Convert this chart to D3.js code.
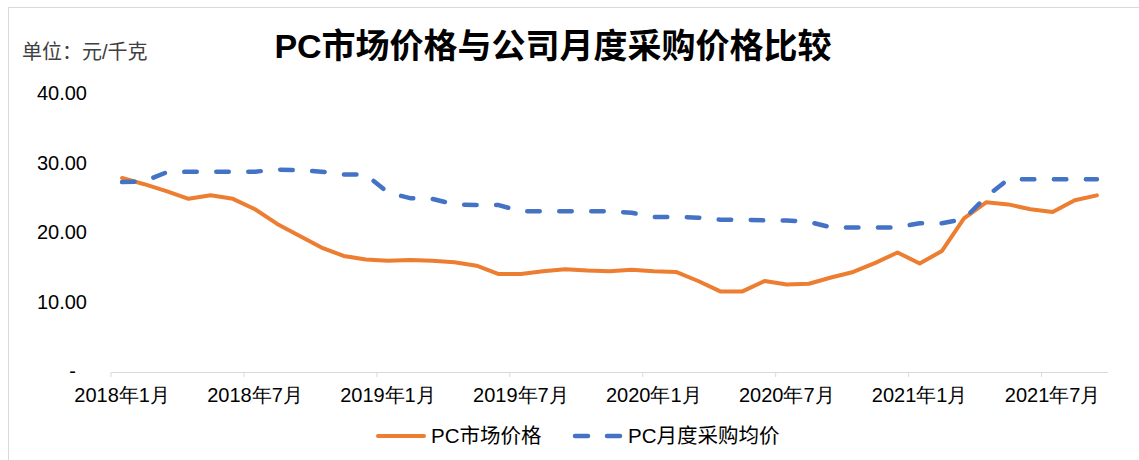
<!DOCTYPE html>
<html>
<head>
<meta charset="utf-8">
<script src="https://cdn.jsdelivr.net/npm/d3@7"></script>
<style>
  body { margin: 0; background: #fff; }
  svg { display: block; font-family: "Liberation Sans", Arial, "Noto Sans CJK SC", sans-serif; }
</style>
</head>
<body>
<svg id="chart" width="1139" height="460"></svg>
<script>
// data ----------------------------------
const months = d3.timeMonth.range(new Date(2018, 0, 1), new Date(2021, 9, 1));
const categories = months.map(d => d3.timeFormat('%Y-%m')(d));
const tickCategories = ['2018-01', '2018-07', '2019-01', '2019-07', '2020-01', '2020-07', '2021-01', '2021-07'];
const tickLabels = ['2018年1月', '2018年7月', '2019年1月', '2019年7月', '2020年1月', '2020年7月', '2021年1月', '2021年7月'];
const yTicks = [0, 10, 20, 30, 40];
const marketPrice = [
  27.8, 26.9, 25.9, 24.8, 25.3, 24.8, 23.3, 21.2, 19.5, 17.8, 16.6, 16.1,
  15.9, 16.0, 15.9, 15.7, 15.2, 14.0, 14.0, 14.4, 14.7, 14.5, 14.4, 14.6,
  14.4, 14.3, 13.0, 11.5, 11.5, 13.0, 12.5, 12.6, 13.5, 14.3, 15.6, 17.1,
  15.5, 17.3, 22.0, 24.3, 24.0, 23.3, 22.9, 24.6, 25.3
];
const purchasePrice = [
  27.2, 27.3, 28.6, 28.7, 28.7, 28.7, 28.7, 29.0, 28.9, 28.7, 28.3, 28.3,
  25.7, 24.9, 24.8, 24.0, 23.9, 23.9, 23.0, 23.0, 23.0, 23.0, 23.0, 22.8,
  22.2, 22.2, 22.1, 21.8, 21.8, 21.7, 21.7, 21.5, 20.7, 20.7, 20.7, 20.7,
  21.3, 21.3, 21.9, 25.1, 27.6, 27.6, 27.6, 27.6, 27.6
];
const seriesNames = ['PC市场价格', 'PC月度采购均价'];
const colors = ['#ED7D31', '#4472C4'];

const svg = d3.select('#chart');

// frame
svg.append('rect').attr('x', 8.5).attr('y', 7.5).attr('width', 1140).attr('height', 460)
  .attr('fill', 'none').attr('stroke', '#d9d9d9');

const x = d3.scaleBand().domain(categories).range([111, 1108]);
const y = d3.scaleLinear().domain([0, 40]).range([371.5, 93]);
const cx = d => x(d) + x.bandwidth() / 2;

// title + unit
svg.append('text').attr('x', 553).attr('y', 58).attr('text-anchor', 'middle')
  .style('font-size', '34px').style('font-weight', 'bold').attr('fill', '#000')
  .text('PC市场价格与公司月度采购价格比较');
svg.append('text').attr('x', 22).attr('y', 59)
  .style('font-size', '20px').attr('fill', '#404040').text('单位：元/千克');

// y axis labels
const yAxis = d3.axisLeft(y).tickValues(yTicks).tickSize(0).tickPadding(0)
  .tickFormat(v => v === 0 ? '-' : d3.format('.2f')(v));
const gy = svg.append('g').attr('transform', 'translate(87,0)').call(yAxis);
gy.select('.domain').remove();
gy.selectAll('text').style('font-size', '20px').attr('fill', '#000')
  .attr('font-family', null)
  .attr('dx', v => v === 0 ? -11 : 0);

// x axis
const xAxis = d3.axisBottom(x).tickValues(tickCategories).tickSize(0).tickPadding(16)
  .tickFormat((d, i) => tickLabels[i]);
const gx = svg.append('g').attr('transform', 'translate(0,372)').call(xAxis);
gx.select('.domain').attr('stroke', '#d9d9d9').attr('d', 'M111,0.5H1108');
gx.selectAll('text').style('font-size', '20px').attr('fill', '#000').attr('font-family', null);
gx.selectAll('.tick').append('line')
  .attr('x1', -x.bandwidth() / 2).attr('x2', -x.bandwidth() / 2)
  .attr('y1', 0.5).attr('y2', 5).attr('stroke', '#d9d9d9');

// lines
const line = d3.line().x((d, i) => cx(categories[i])).y(d => y(d));
svg.append('path').datum(marketPrice).attr('d', line)
  .attr('fill', 'none').attr('stroke', colors[0]).attr('stroke-width', 4)
  .attr('stroke-linejoin', 'round').attr('stroke-linecap', 'round');
svg.append('path').datum(purchasePrice).attr('d', line)
  .attr('fill', 'none').attr('stroke', colors[1]).attr('stroke-width', 4.5)
  .attr('stroke-dasharray', '12.5,19.5').attr('stroke-linecap', 'round')
  .attr('stroke-linejoin', 'round');

// legend
const lg = svg.append('g');
lg.append('line').attr('x1', 378).attr('x2', 424).attr('y1', 436).attr('y2', 436)
  .attr('stroke', colors[0]).attr('stroke-width', 4).attr('stroke-linecap', 'round');
lg.append('text').attr('x', 431).attr('y', 443).style('font-size', '20.5px').attr('fill', '#000').text(seriesNames[0]);
lg.append('line').attr('x1', 575).attr('x2', 620).attr('y1', 436).attr('y2', 436)
  .attr('stroke', colors[1]).attr('stroke-width', 4.5).attr('stroke-linecap', 'round')
  .attr('stroke-dasharray', '13,19');
lg.append('text').attr('x', 628).attr('y', 443).style('font-size', '20.5px').attr('fill', '#000').text(seriesNames[1]);
</script>
</body>
</html>
